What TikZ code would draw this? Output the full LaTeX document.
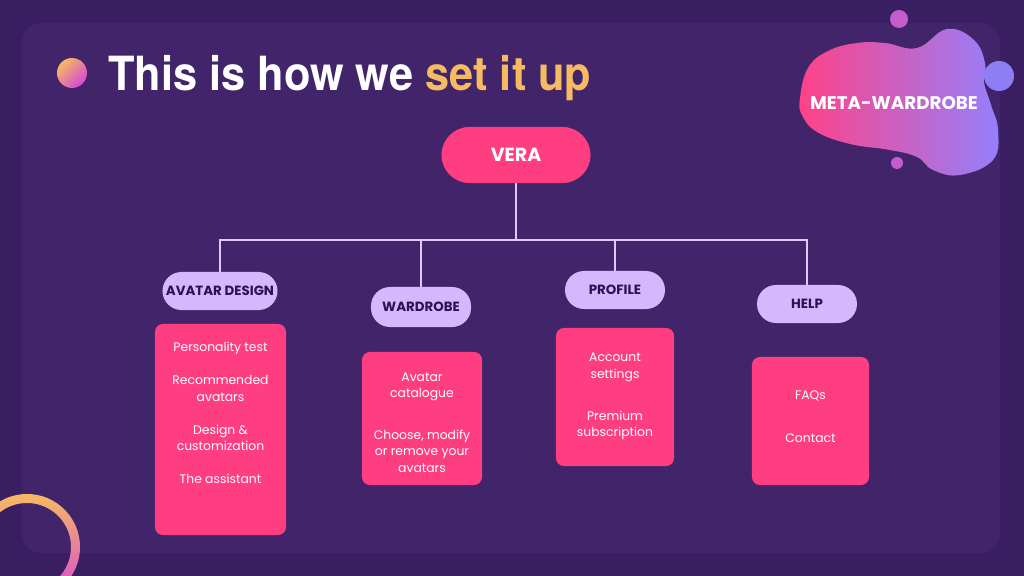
\documentclass[tikz,border=0pt]{standalone}
\usepackage{fontspec}
\setmainfont{Poppins}
\newfontfamily\titlefont[FakeStretch=0.92]{TeX Gyre Heros}
\usepackage{tikz}
\usetikzlibrary{calc}
\definecolor{veraPlum}{RGB}{58,30,98}
\definecolor{veraPanel}{RGB}{66,36,106}
\definecolor{veraPink}{RGB}{255,62,130}
\definecolor{veraLilac}{RGB}{214,182,252}
\definecolor{veraInk}{RGB}{46,16,82}
\definecolor{veraLine}{RGB}{222,200,255}
\definecolor{veraGold}{RGB}{246,186,98}
\definecolor{veraMagenta}{RGB}{214,72,214}
\definecolor{blobLeft}{RGB}{255,66,136}
\definecolor{blobRight}{RGB}{148,128,252}
\definecolor{dotPink}{RGB}{196,92,206}
\definecolor{dotBlue}{RGB}{142,126,246}

\begin{document}
\begin{tikzpicture}[x=0.025cm,y=-0.025cm,
    root/.style={fill=veraPink, rounded corners=0.7cm, minimum width=3.725cm,
        minimum height=1.4cm, text=white, font=\fontsize{13.5}{16}\selectfont\bfseries},
    branch/.style={fill=veraLilac, rounded corners=0.475cm, minimum width=2.5cm,
        minimum height=0.95cm, inner sep=0pt, text=veraInk,
        font=\fontsize{9.5}{11}\selectfont\bfseries},
    card/.style={fill=veraPink, rounded corners=0.2cm, inner sep=0pt},
    cardtext/.style={text=white, align=center, inner sep=0pt,
        font=\fontsize{8.8}{11.7}\selectfont},
    link/.style={veraLine, line width=1.1pt}]

    % background and panel
    \fill[veraPlum] (0,0) rectangle (1024,576);
    \fill[veraPanel, rounded corners=0.5cm] (22,23) rectangle (1000,553);

    % ring in the corner
    \begin{scope}
        \clip (0,0) rectangle (1024,576);
        \shade[top color=veraGold, bottom color=veraMagenta, even odd rule]
            (27,547) circle (1.325cm) (27,547) circle (1.1cm);
    \end{scope}

    % blob with small dots
    \shade[left color=blobLeft, right color=blobRight]
        plot[smooth cycle, tension=0.7] coordinates {
            (800,98) (808,68) (828,51) (857,43) (885,43) (917,48) (947,29)
            (974,40) (985,63) (984,82) (991,105) (998,130) (993,160)
            (960,175) (933,170) (917,157) (890,150) (850,144) (817,132) (802,115)};
    \fill[dotPink] (899,19) circle (0.225cm);
    \fill[dotBlue] (999,76) circle (0.375cm);
    \fill[dotPink] (897,163) circle (0.15cm);
    \node[text=white, font=\fontsize{13}{15}\selectfont\bfseries] (brand) at (894,103) {META-WARDROBE};

    % title
    \shade[top color=veraGold, bottom color=veraMagenta, shading angle=45]
        (72,73) circle (0.375cm);
    \node[anchor=base west, inner sep=0pt, text=white,
        font=\titlefont\bfseries\fontsize{33.5}{36}\selectfont] (title) at (108,91)
        {This is how we \textcolor{veraGold}{set it up}};

    % tree
    \node[root] (vera) at (516,155) {VERA};
    \node[branch, minimum width=2.875cm] (avatar) at (220,291) {AVATAR DESIGN};
    \node[branch, minimum height=1.0cm] (wardrobe) at (421,307) {WARDROBE};
    \node[branch] (profile) at (615,290) {PROFILE};
    \node[branch] (help) at (807,304) {HELP};

    \coordinate (bus) at (516,240);
    \foreach \kid in {avatar,wardrobe,profile,help}
        \draw[link] (vera.south) -- (vera.south |- bus) -| (\kid.north);

    % cards
    \node[card, minimum width=3.275cm, minimum height=5.275cm] (avatarcard) at (220.5,429.5) {};
    \node[card, minimum width=3.0cm, minimum height=3.325cm] (wardrobecard) at (422,418.5) {};
    \node[card, minimum width=2.95cm, minimum height=3.45cm] (profilecard) at (615,397) {};
    \node[card, minimum width=2.925cm, minimum height=3.2cm] (helpcard) at (810.5,421) {};

    \node[cardtext] (avatarlist) at (avatarcard |- 0,413)
        {Personality test\\[11.7pt] Recommended\\avatars\\[11.7pt]
         Design \&\\customization\\[11.7pt] The assistant};
    \node[cardtext] (wardrobelist) at (wardrobecard |- 0,422.5)
        {Avatar\\catalogue\\[18pt] Choose, modify\\or remove your\\avatars};
    \node[cardtext] (profilelist) at (profilecard |- 0,396.5)
        {Account\\settings\\[18pt] Premium\\subscription};
    \node[cardtext] (helplist) at (helpcard |- 0,416.5)
        {FAQs\\[19pt] Contact};

\end{tikzpicture}
\end{document}
